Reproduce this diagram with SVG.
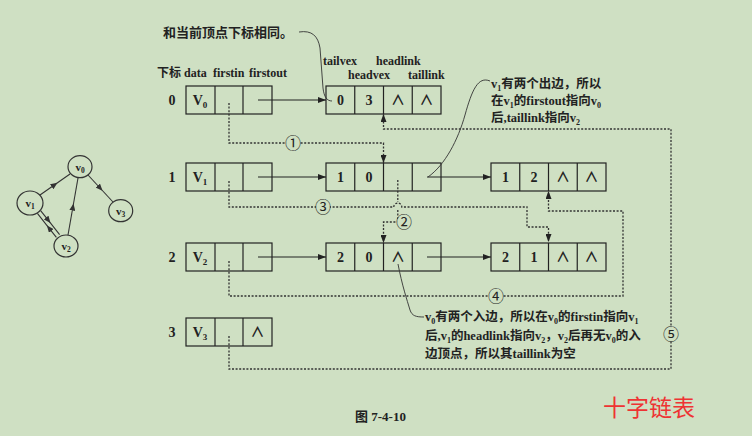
<svg xmlns="http://www.w3.org/2000/svg" width="752" height="436" viewBox="0 0 752 436">
<defs>
<style>
.bg{fill:#cfe0c3}
.box{fill:none;stroke:#222;stroke-width:1.2}
.t{font-family:"Liberation Serif","Noto Sans CJK SC",serif;font-weight:bold;fill:#222}
.c{font-size:14px;text-anchor:middle}
.h{font-size:12px}
.a{font-size:12.5px}
.cjk{font-family:"Liberation Serif","Noto Sans CJK SC",serif}
.solid{fill:none;stroke:#222;stroke-width:1.2}
.dot{fill:none;stroke:#333;stroke-width:1.3;stroke-dasharray:2 1.6}
.thin{fill:none;stroke:#333;stroke-width:0.9}
.num{font-family:"Noto Sans CJK SC","DejaVu Sans",sans-serif;font-size:16px;text-anchor:middle;fill:#222}
.gn{fill:none;stroke:#333;stroke-width:1.2}
.ge{fill:none;stroke:#333;stroke-width:1.1}
</style>
<marker id="arr" markerWidth="8" markerHeight="6" refX="8" refY="3" orient="auto" markerUnits="userSpaceOnUse">
<path d="M0,0 L8,3 L0,6 z" fill="#222"/>
</marker>
<marker id="mid" markerWidth="7" markerHeight="6" refX="4" refY="3" orient="auto" markerUnits="userSpaceOnUse">
<path d="M0,0 L7,3 L0,6 z" fill="#333"/>
</marker>
</defs>
<rect class="bg" x="0" y="0" width="752" height="436"/>

<!-- small graph -->
<g id="graph">
<g id="g-v0"><ellipse class="gn" cx="80" cy="166.7" rx="12" ry="11"/><text class="t" x="80" y="170.5" font-size="11" text-anchor="middle">v<tspan font-size="7.5" dy="2">0</tspan></text></g>
<g id="g-v1"><ellipse class="gn" cx="30" cy="203" rx="13" ry="12"/><text class="t" x="30" y="207" font-size="11" text-anchor="middle">v<tspan font-size="7.5" dy="2">1</tspan></text></g>
<g id="g-v2"><ellipse class="gn" cx="66" cy="246" rx="12" ry="11"/><text class="t" x="66" y="250" font-size="11" text-anchor="middle">v<tspan font-size="7.5" dy="2">2</tspan></text></g>
<g id="g-v3"><ellipse class="gn" cx="120.7" cy="210.7" rx="12" ry="11"/><text class="t" x="120.7" y="214.5" font-size="11" text-anchor="middle">v<tspan font-size="7.5" dy="2">3</tspan></text></g>
<g id="g-edges">
<polyline class="ge" points="40,195 55,184.5 70,174" marker-mid="url(#mid)"/>
<polyline class="ge" points="88,175 100.5,188.5 113,202" marker-mid="url(#mid)"/>
<polyline class="ge" points="68,235 73,206.5 78,178" marker-mid="url(#mid)"/>
<polyline class="ge" points="40.6,210.6 48.6,220.7 59.6,234.6" marker-mid="url(#mid)"/>
<polyline class="ge" points="56.4,237.4 48.8,227.8 37.4,213.4" marker-mid="url(#mid)"/>
</g>
</g>

<!-- headers -->
<g id="headers" class="t h">
<text x="157" y="77"><tspan class="cjk">下标</tspan> data</text>
<text x="213" y="77">firstin</text>
<text x="249" y="77">firstout</text>
<text x="323" y="65">tailvex</text>
<text x="376" y="65">headlink</text>
<text x="348" y="79">headvex</text>
<text x="408" y="79">taillink</text>
</g>

<!-- row labels -->
<g id="rowlabels" class="t c">
<text x="172" y="105">0</text>
<text x="172" y="182">1</text>
<text x="172" y="262">2</text>
<text x="172" y="337">3</text>
</g>

<!-- vertex nodes -->
<g id="vertex0">
<rect class="box" x="186" y="86" width="86" height="28"/>
<line class="box" x1="215" y1="86" x2="215" y2="114"/><line class="box" x1="243" y1="86" x2="243" y2="114"/>
<text class="t c" x="200" y="105">V<tspan font-size="9" dy="3">0</tspan></text>
</g>
<g id="vertex1">
<rect class="box" x="186" y="163" width="86" height="28"/>
<line class="box" x1="215" y1="163" x2="215" y2="191"/><line class="box" x1="243" y1="163" x2="243" y2="191"/>
<text class="t c" x="200" y="182">V<tspan font-size="9" dy="3">1</tspan></text>
</g>
<g id="vertex2">
<rect class="box" x="186" y="243" width="86" height="28"/>
<line class="box" x1="215" y1="243" x2="215" y2="271"/><line class="box" x1="243" y1="243" x2="243" y2="271"/>
<text class="t c" x="200" y="262">V<tspan font-size="9" dy="3">2</tspan></text>
</g>
<g id="vertex3">
<rect class="box" x="186" y="318" width="86" height="28"/>
<line class="box" x1="215" y1="318" x2="215" y2="346"/><line class="box" x1="243" y1="318" x2="243" y2="346"/>
<text class="t c" x="200" y="337">V<tspan font-size="9" dy="3">3</tspan></text>
<text class="t c" x="257.5" y="337" font-family="DejaVu Sans" font-weight="normal">∧</text>
</g>

<!-- edge nodes -->
<g id="edge03">
<rect class="box" x="326" y="86" width="115" height="28"/>
<line class="box" x1="354.75" y1="86" x2="354.75" y2="114"/><line class="box" x1="383.5" y1="86" x2="383.5" y2="114"/><line class="box" x1="412.25" y1="86" x2="412.25" y2="114"/>
<text class="t c" x="340.4" y="105">0</text><text class="t c" x="369.1" y="105">3</text>
<text class="t c" x="397.9" y="105" font-family="DejaVu Sans" font-weight="normal">∧</text><text class="t c" x="426.6" y="105" font-family="DejaVu Sans" font-weight="normal">∧</text>
</g>
<g id="edge10">
<rect class="box" x="326" y="163" width="115" height="28"/>
<line class="box" x1="354.75" y1="163" x2="354.75" y2="191"/><line class="box" x1="383.5" y1="163" x2="383.5" y2="191"/><line class="box" x1="412.25" y1="163" x2="412.25" y2="191"/>
<text class="t c" x="340.4" y="182">1</text><text class="t c" x="369.1" y="182">0</text>
</g>
<g id="edge12">
<rect class="box" x="491" y="163" width="115" height="28"/>
<line class="box" x1="519.75" y1="163" x2="519.75" y2="191"/><line class="box" x1="548.5" y1="163" x2="548.5" y2="191"/><line class="box" x1="577.25" y1="163" x2="577.25" y2="191"/>
<text class="t c" x="505.4" y="182">1</text><text class="t c" x="534.1" y="182">2</text>
<text class="t c" x="562.9" y="182" font-family="DejaVu Sans" font-weight="normal">∧</text><text class="t c" x="591.6" y="182" font-family="DejaVu Sans" font-weight="normal">∧</text>
</g>
<g id="edge20">
<rect class="box" x="326" y="243" width="115" height="28"/>
<line class="box" x1="354.75" y1="243" x2="354.75" y2="271"/><line class="box" x1="383.5" y1="243" x2="383.5" y2="271"/><line class="box" x1="412.25" y1="243" x2="412.25" y2="271"/>
<text class="t c" x="340.4" y="262">2</text><text class="t c" x="369.1" y="262">0</text>
<text class="t c" x="397.9" y="262" font-family="DejaVu Sans" font-weight="normal">∧</text>
</g>
<g id="edge21">
<rect class="box" x="491" y="243" width="115" height="28"/>
<line class="box" x1="519.75" y1="243" x2="519.75" y2="271"/><line class="box" x1="548.5" y1="243" x2="548.5" y2="271"/><line class="box" x1="577.25" y1="243" x2="577.25" y2="271"/>
<text class="t c" x="505.4" y="262">2</text><text class="t c" x="534.1" y="262">1</text>
<text class="t c" x="562.9" y="262" font-family="DejaVu Sans" font-weight="normal">∧</text><text class="t c" x="591.6" y="262" font-family="DejaVu Sans" font-weight="normal">∧</text>
</g>

<!-- connectors -->
<g id="connectors">
<line class="solid" x1="258" y1="100" x2="326" y2="100" marker-end="url(#arr)"/>
<line class="solid" x1="258" y1="177" x2="326" y2="177" marker-end="url(#arr)"/>
<line class="solid" x1="427" y1="177" x2="491" y2="177" marker-end="url(#arr)"/>
<line class="solid" x1="258" y1="257" x2="326" y2="257" marker-end="url(#arr)"/>
<line class="solid" x1="427" y1="257" x2="491" y2="257" marker-end="url(#arr)"/>
<path class="dot" d="M229,103 V143 H383.5 V163" marker-end="url(#arr)"/>
<path class="dot" d="M397.8,180 V202 M397.8,210 V222 H383.5 V243" marker-end="url(#arr)"/>
<path class="dot" d="M229,181 V207 H393.8 A4,4 0 0 1 401.8,207 H527 V227 H548.5 V242" marker-end="url(#arr)"/>
<path class="dot" d="M229,261 V296 H623 V211 H548.5 V191" marker-end="url(#arr)"/>
<path class="dot" d="M229,336 V369 H671 V129 H383.5 V114" marker-end="url(#arr)"/>
<g id="circled">
<circle class="bg" cx="293" cy="143" r="7"/><text class="num" x="293" y="148.5">①</text>
<circle class="bg" cx="404" cy="222" r="7"/><text class="num" x="404" y="227.5">②</text>
<circle class="bg" cx="323" cy="207" r="7"/><text class="num" x="323" y="212.5">③</text>
<circle class="bg" cx="496" cy="296" r="7"/><text class="num" x="496" y="301.5">④</text>
<circle class="bg" cx="671" cy="334" r="7"/><text class="num" x="671" y="339.5">⑤</text>
</g>
</g>

<!-- annotations -->
<g id="note-top">
<path class="thin" d="M299,32 C312,30 318,36 320,48 L323,88 C324,97 327,101 332,101"/>
<text class="t" x="163" y="37" font-size="13"><tspan class="cjk">和当前顶点下标相同。</tspan></text>
</g>
<g id="note-right">
<path class="thin" d="M490,81 C478,76 472,90 465,115 C458,140 445,165 428,177"/>
<text class="t a" x="491" y="88">v<tspan font-size="8" dy="3">1</tspan><tspan dy="-3">有两个出边，所以</tspan></text>
<text class="t a" x="491" y="105">在v<tspan font-size="8" dy="3">1</tspan><tspan dy="-3">的firstout指向v</tspan><tspan font-size="8" dy="3">0</tspan></text>
<text class="t a" x="491" y="122">后,taillink指向v<tspan font-size="8" dy="3">2</tspan></text>
</g>
<g id="note-bottom">
<path class="thin" d="M398,264 C402,285 407,300 410,310 C412,316 416,317 424,317"/>
<text class="t a" x="425" y="321">v<tspan font-size="8" dy="3">0</tspan><tspan dy="-3">有两个入边，所以在v</tspan><tspan font-size="8" dy="3">0</tspan><tspan dy="-3">的firstin指向v</tspan><tspan font-size="8" dy="3">1</tspan></text>
<text class="t a" x="425" y="340">后,v<tspan font-size="8" dy="3">1</tspan><tspan dy="-3">的headlink指向v</tspan><tspan font-size="8" dy="3">2</tspan><tspan dy="-3">，v</tspan><tspan font-size="8" dy="3">2</tspan><tspan dy="-3">后再无v</tspan><tspan font-size="8" dy="3">0</tspan><tspan dy="-3">的入</tspan></text>
<text class="t a" x="425" y="358">边顶点，所以其taillink为空</text>
</g>

<text class="t" x="355" y="421" font-size="13">图 7-4-10</text>
<text x="603" y="416" font-family="Noto Sans CJK SC,sans-serif" font-size="23" fill="#ee3333">十字链表</text>
</svg>
